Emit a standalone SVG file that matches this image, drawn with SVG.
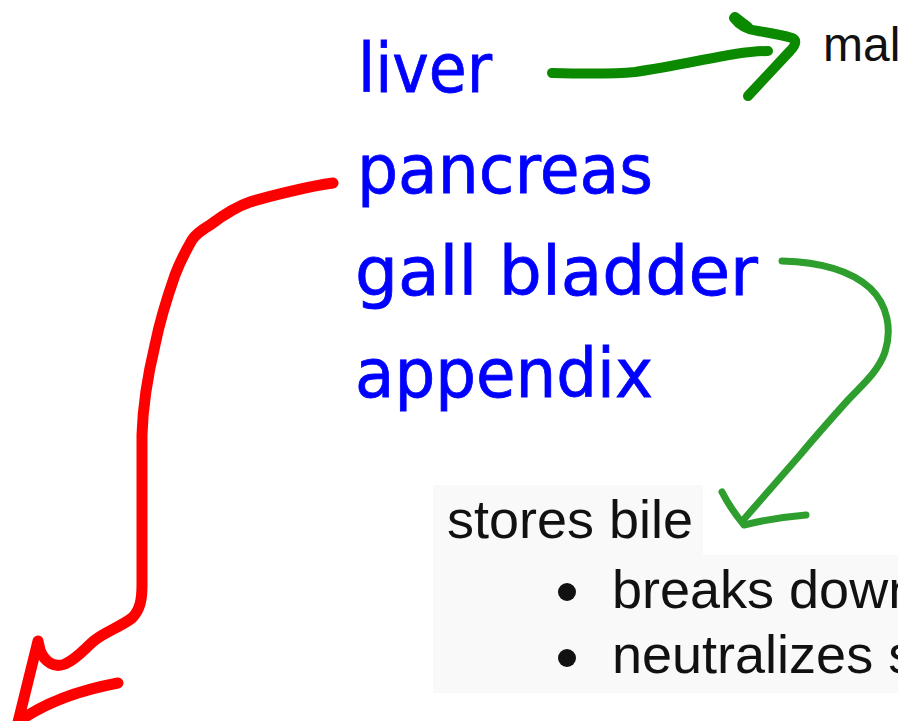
<svg xmlns="http://www.w3.org/2000/svg" width="898" height="721" viewBox="0 0 898 721">
<style>
.organ{font-family:"DejaVu Sans",sans-serif;font-size:68px;fill:#0000ff;stroke:#0000ff;stroke-width:0.8px}
.note{font-family:"Liberation Sans",Arial,sans-serif;font-size:54px;fill:#111}
.small{font-size:48px}
.pen{fill:none;stroke-linecap:round;stroke-linejoin:round}
.red{stroke:#ff0000;stroke-width:11}
.dkgreen{stroke:#0b8a00;stroke-width:10}
.ltgreen{stroke:#2e9e2e;stroke-width:7}
</style>
<rect width="898" height="721" fill="#ffffff"/>
<g id="notes-panel">
<path d="M433,485 H703 V555 H898 V693 H433 Z" fill="#f9f9f9"/>
</g>
<g id="liver"><text class="organ" x="358" y="92" textLength="134" lengthAdjust="spacingAndGlyphs">liver</text></g>
<g id="pancreas"><text class="organ" x="357" y="193" textLength="296" lengthAdjust="spacingAndGlyphs">pancreas</text></g>
<g id="gall-bladder"><text class="organ" x="355" y="295" textLength="403" lengthAdjust="spacingAndGlyphs">gall bladder</text></g>
<g id="appendix"><text class="organ" x="355" y="397" textLength="298" lengthAdjust="spacingAndGlyphs">appendix</text></g>
<g id="liver-note"><text class="note small" x="823" y="61">mal</text></g>
<g id="gall-note">
<text class="note" x="447" y="538" textLength="246" lengthAdjust="spacingAndGlyphs">stores bile</text>
<circle cx="567" cy="592" r="9" fill="#111"/>
<text class="note" x="612" y="608">breaks down</text>
<circle cx="567" cy="658" r="9" fill="#111"/>
<text class="note" x="612" y="673">neutralizes s</text>
</g>
<g id="connectors">
<path class="pen dkgreen" d="M552,73 C590,74 615,74 635,72 C670,67 710,58 735,54 C748,52 760,51 768,51"/>
<path class="pen dkgreen" d="M734,18 C740,26 748,30 758,31 C770,33 782,35 792,38 C797,40 796,45 790,51 L748,96"/>
<path class="pen dkgreen" stroke-width="15" d="M735,17 L748,27"/>
<path class="pen ltgreen" d="M782,261 C820,262 850,270 870,288 C888,305 892,330 885,352 C878,372 862,385 848,400 C830,420 815,437 800,455 C785,472 765,495 745,518"/>
<path class="pen ltgreen" d="M722,492 C728,504 735,514 744,525 C760,521 782,517 806,515"/>
<path class="pen red" d="M333,183 C310,186 270,196 250,202 C235,207 222,216 210,225 C200,231 195,235 192,240 C185,252 180,262 175,275 C168,295 160,320 155,345 C149,370 143,400 142,435 L142,585 C142,600 140,610 132,618 C120,627 105,632 95,640 C85,648 78,658 65,664 C55,668 45,663 40,650 L38,641 L18,722 C40,706 70,692 118,683"/>
</g>
</svg>
